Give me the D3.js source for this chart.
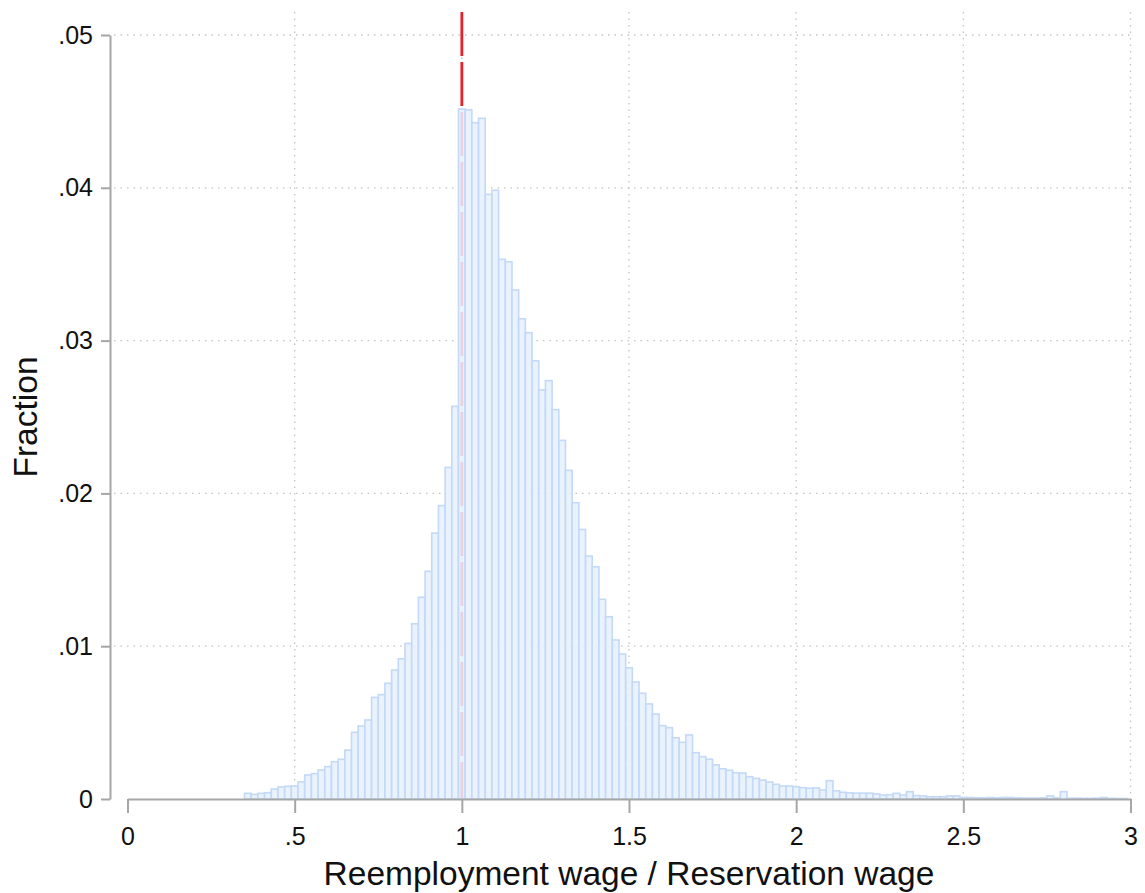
<!DOCTYPE html>
<html lang="en">
<head>
	<meta charset="UTF-8">
	<title>Reemployment wage histogram</title>
	<script src="https://cdn.jsdelivr.net/npm/d3@7"></script>
	<style>
		body { margin: 0; background: #fff; }
		text { font-family: "Liberation Sans", Arial, sans-serif; fill: #111; }
	</style>
</head>
<body>
	<svg id="svg"></svg>
	<script>
		// histogram bins: lower edge of first bin and width
		var binStart = 0.35,
			binWidth = 0.02;

		var fractions = [
			0.00037, 0.00030, 0.00037, 0.00041, 0.00065, 0.00079, 0.00083, 0.00085, 0.00112, 0.00157,
			0.00166, 0.00190, 0.00212, 0.00244, 0.00260, 0.00320, 0.00436, 0.00478, 0.00517, 0.00665,
			0.00683, 0.00757, 0.00844, 0.00918, 0.01018, 0.01147, 0.01320, 0.01490, 0.01740, 0.01920,
			0.02170, 0.02570, 0.04516, 0.04510, 0.04426, 0.04455, 0.03957, 0.03984, 0.03532, 0.03516,
			0.03331, 0.03143, 0.03052, 0.02868, 0.02677, 0.02738, 0.02548, 0.02347, 0.02151, 0.01939,
			0.01764, 0.01590, 0.01520, 0.01307, 0.01193, 0.01041, 0.00949, 0.00859, 0.00766, 0.00692,
			0.00622, 0.00556, 0.00480, 0.00467, 0.00401, 0.00371, 0.00419, 0.00303, 0.00277, 0.00260,
			0.00223, 0.00198, 0.00188, 0.00172, 0.00170, 0.00146, 0.00135, 0.00124, 0.00111, 0.00096,
			0.00085, 0.00085, 0.00080, 0.00074, 0.00070, 0.00072, 0.00059, 0.00120, 0.00054, 0.00044,
			0.00040, 0.00038, 0.00038, 0.00038, 0.00033, 0.00026, 0.00028, 0.00037, 0.00026, 0.00048,
			0.00022, 0.00020, 0.00015, 0.00015, 0.00015, 0.00020, 0.00020, 0.00010, 0.00010, 0.00008,
			0.00007, 0.00010, 0.00007, 0.00010, 0.00010, 0.00007, 0.00006, 0.00006, 0.00006, 0.00007,
			0.00020, 0.00007, 0.00048, 0.00005, 0.00005, 0.00004, 0.00004, 0.00005, 0.00010, 0.00004,
			0.00003, 0.00003
		];

		var xTicks = [0, 0.5, 1, 1.5, 2, 2.5, 3],
			yTicks = [0, 0.01, 0.02, 0.03, 0.04, 0.05],
			refLine = 1,
			xTitle = "Reemployment wage / Reservation wage",
			yTitle = "Fraction";

		var w = 1145,
			h = 893,
			svg = d3.select("#svg").attr("width", w).attr("height", h);

		var x = d3.scaleLinear().domain([0, 3]).range([127.5, 1130.5]),
			y = d3.scaleLinear().domain([0, 0.05]).range([799, 35]),
			yAxisX = 110,
			plotTop = 12;

		var fmt = function(d) {
			return d === 0 ? "0" : d3.format("~g")(d).replace(/^0\./, ".");
		};

		// gridlines
		svg.append("g").selectAll("line.hg")
			.data(yTicks.filter(function(d) { return d > 0; }))
			.enter().append("line")
			.attr("x1", yAxisX + 4).attr("x2", x(3))
			.attr("y1", y).attr("y2", y)
			.attr("stroke", "#c4c4c4").attr("stroke-width", 1.3)
			.attr("stroke-dasharray", "1.5,5");
		svg.append("g").selectAll("line.vg")
			.data(xTicks.filter(function(d) { return d > 0; }))
			.enter().append("line")
			.attr("x1", x).attr("x2", x)
			.attr("y1", plotTop).attr("y2", y(0))
			.attr("stroke", "#c4c4c4").attr("stroke-width", 1.3)
			.attr("stroke-dasharray", "1.5,5");

		// reference line at 1 (behind the bars)
		svg.append("line")
			.attr("x1", x(refLine)).attr("x2", x(refLine))
			.attr("y1", plotTop).attr("y2", y(0))
			.attr("stroke", "#e8212b").attr("stroke-width", 2.8)
			.attr("stroke-dasharray", "44,6");

		// bars
		svg.append("g").selectAll("rect")
			.data(fractions)
			.enter().append("rect")
			.attr("x", function(d, i) { return x(binStart + i * binWidth); })
			.attr("width", function(d, i) { return x(binStart + (i + 1) * binWidth) - x(binStart + i * binWidth); })
			.attr("y", function(d) { return y(d); })
			.attr("height", function(d) { return y(0) - y(d); })
			.attr("fill", "#e6f0fd").attr("fill-opacity", 0.86)
			.attr("stroke", "#c3d9f6").attr("stroke-width", 1.6);

		// axes
		var xAxis = svg.append("g")
			.attr("transform", "translate(0," + y(0) + ")")
			.call(d3.axisBottom(x).tickValues(xTicks).tickFormat(fmt).tickSize(14).tickSizeOuter(0).tickPadding(14));
		var yAxis = svg.append("g")
			.attr("transform", "translate(" + yAxisX + ",0)")
			.call(d3.axisLeft(y).tickValues(yTicks).tickFormat(fmt).tickSize(9).tickSizeOuter(0).tickPadding(8));

		[xAxis, yAxis].forEach(function(a) {
			a.select(".domain").attr("stroke", "#a6a6a6").attr("stroke-width", 2);
			a.selectAll(".tick line").attr("stroke", "#a6a6a6").attr("stroke-width", 2);
			a.selectAll(".tick text")
				.style("font-family", "'Liberation Sans', Arial, sans-serif")
				.style("font-size", "25px").attr("fill", "#111");
		});

		// axis titles
		svg.append("text")
			.attr("x", (x(0) + x(3)) / 2).attr("y", 885)
			.attr("text-anchor", "middle")
			.style("font-size", "33.5px")
			.text(xTitle);
		svg.append("text")
			.attr("transform", "translate(37," + (y(0) + y(0.05)) / 2 + ") rotate(-90)")
			.attr("text-anchor", "middle")
			.style("font-size", "33.5px")
			.text(yTitle);
	</script>
</body>
</html>
